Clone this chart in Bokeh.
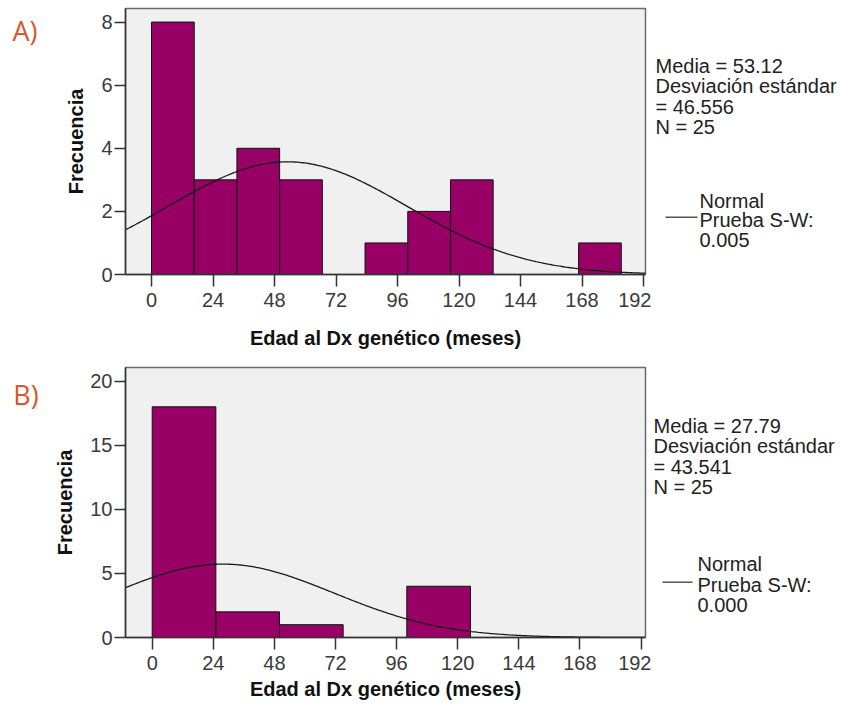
import math
import numpy as np
from bokeh.plotting import figure
from bokeh.models import Range1d, FixedTicker
from bokeh.layouts import row, column
from bokeh.core.properties import value
from bokeh.embed import file_html
from bokeh.resources import INLINE

# ---------------- data ----------------
x_ticks = [0, 24, 48, 72, 96, 120, 144, 168, 192]

# Panel A
edges_a = [0, 16.67, 33.33, 50.0, 66.67, 83.33, 100.0, 116.67, 133.33, 150.0, 166.67, 183.33]
counts_a = [8, 3, 4, 3, 0, 1, 2, 3, 0, 0, 1]
y_ticks_a = [0, 2, 4, 6, 8]
mean_a, sd_a, n_a = 53.12, 46.556, 25
stats_a = ["Media = 53.12", "Desviación estándar", "= 46.556", "N = 25"]
legend_a = ["Normal", "Prueba S-W:", "0.005"]

# Panel B
edges_b = [0, 25, 50, 75, 100, 125]
counts_b = [18, 2, 1, 0, 4]
y_ticks_b = [0, 5, 10, 15, 20]
mean_b, sd_b, n_b = 27.79, 43.541, 25
stats_b = ["Media = 27.79", "Desviación estándar", "= 43.541", "N = 25"]
legend_b = ["Normal", "Prueba S-W:", "0.000"]

x_title = "Edad al Dx genético (meses)"
y_title = "Frecuencia"

# ---------------- style ----------------
FONT = "Liberation Sans"
BAR = "#990066"
BG = "#F0F0F0"
ORANGE = "#D9572B"

TAG_W = 50
SIDE_W = 190
HIST_W = 841 - TAG_W - SIDE_W
TXT_SHIFT = 8     # baseline correction for side texts
TAG_SHIFT = 11    # baseline correction for panel tags


def blank_fig(width, height, xr, yr, top, bottom):
    s = figure(width=width, height=height, output_backend="svg", toolbar_location=None,
               x_range=Range1d(*xr), y_range=Range1d(*yr),
               min_border_left=0, min_border_right=0,
               min_border_top=top, min_border_bottom=bottom)
    s.axis.visible = False
    s.grid.visible = False
    s.outline_line_color = None
    s.background_fill_color = "white"
    s.border_fill_color = "white"
    return s


def hist_fig(edges, counts, yticks, mean, sd, n, xr, yr, height, top, bottom, xlab_standoff):
    p = figure(width=HIST_W, height=height, output_backend="svg", toolbar_location=None,
               x_range=Range1d(*xr), y_range=Range1d(*yr),
               min_border_left=75, min_border_right=6,
               min_border_top=top, min_border_bottom=bottom)
    p.background_fill_color = BG
    p.border_fill_color = "white"
    p.outline_line_color = "#6a6a6a"
    p.outline_line_width = 1.5
    p.xgrid.visible = False
    p.ygrid.visible = False

    left = [edges[i] for i in range(len(counts)) if counts[i] > 0]
    right = [edges[i + 1] for i in range(len(counts)) if counts[i] > 0]
    tops = [c for c in counts if c > 0]
    p.quad(left=left, right=right, bottom=0, top=tops, fill_color=BAR,
           line_color="#111111", line_width=1)

    bw = edges[1] - edges[0]
    xs = np.linspace(xr[0], xr[1], 300)
    ys = n * bw * np.exp(-0.5 * ((xs - mean) / sd) ** 2) / (sd * math.sqrt(2 * math.pi))
    p.line(xs, ys, line_color="#1a1a1a", line_width=1.3)

    for ax in (p.xaxis[0], p.yaxis[0]):
        ax.axis_line_color = "#333333"
        ax.axis_line_width = 1.5
        ax.major_tick_line_color = "#333333"
        ax.major_tick_line_width = 1.5
        ax.major_tick_in = 0
        ax.minor_tick_line_color = None
        ax.major_label_text_font = FONT
        ax.major_label_text_font_size = "20px"
        ax.major_label_text_color = "#3a3a3a"
        ax.axis_label_text_font = FONT
        ax.axis_label_text_font_style = "bold"
        ax.axis_label_text_font_size = "20px"
        ax.axis_label_text_color = "#111111"

    p.xaxis.ticker = FixedTicker(ticks=x_ticks)
    p.xaxis.major_tick_out = 12
    p.xaxis.major_label_standoff = 6
    p.xaxis.axis_label = x_title
    p.xaxis.axis_label_standoff = xlab_standoff

    p.yaxis.ticker = FixedTicker(ticks=yticks)
    p.yaxis.major_tick_out = 11
    p.yaxis.major_label_standoff = 2
    p.yaxis.axis_label = y_title
    p.yaxis.axis_label_standoff = 11
    return p


def tag_fig(height, frame_top, frame_bottom, top, bottom, tag, tag_xy):
    t = blank_fig(TAG_W, height, (0, TAG_W), (frame_bottom, frame_top), top, bottom)
    t.text(x=[tag_xy[0]], y=[tag_xy[1] - TAG_SHIFT], text=[tag], text_font=value("Open Sans"),
           text_font_size="27px", text_color=ORANGE, text_baseline="alphabetic")
    return t


def side_fig(height, frame_top, frame_bottom, top, bottom, stats, stats_xy, legend,
             line_xy, legend_xy):
    x0 = TAG_W + HIST_W
    s = blank_fig(SIDE_W, height, (x0, x0 + SIDE_W), (frame_bottom, frame_top), top, bottom)
    sx, sy, sdy = stats_xy
    s.text(x=[sx] * len(stats), y=[sy - TXT_SHIFT + i * sdy for i in range(len(stats))],
           text=stats, text_font=value(FONT), text_font_size="20px", text_color="#222222",
           text_baseline="alphabetic")
    lx0, lx1, ly = line_xy
    s.line([lx0, lx1], [ly, ly], line_color="#555555", line_width=1.5)
    gx, gy, gdy = legend_xy
    s.text(x=[gx] * len(legend), y=[gy - TXT_SHIFT + i * gdy for i in range(len(legend))],
           text=legend, text_font=value(FONT), text_font_size="20px", text_color="#222222",
           text_baseline="alphabetic")
    return s


# ---------- panel A (page y 0..358, frame 8..274) ----------
HA, TA, BA = 358, 8, 84
pA = hist_fig(edges_a, counts_a, y_ticks_a, mean_a, sd_a, n_a,
              xr=(-10.15, 192.78), yr=(0, 8.43), height=HA, top=TA, bottom=BA,
              xlab_standoff=17)
tA = tag_fig(HA, 8, 274, TA, BA, "A)", (12, 41))
sA = side_fig(HA, 8, 274, TA, BA, stats_a, (655, 73.5, 20.4), legend_a,
              (665, 697, 216.7), (699, 208.3, 19.4))

# ---------- panel B (page y 358..715, frame 367..637) ----------
HB, TB, BB = 357, 9, 78
pB = hist_fig(edges_b, counts_b, y_ticks_b, mean_b, sd_b, n_b,
              xr=(-10.49, 193.75), yr=(0, 21.07), height=HB, top=TB, bottom=BB,
              xlab_standoff=5)
tB = tag_fig(HB, 367, 637, TB, BB, "B)", (12.7, 405))
sB = side_fig(HB, 367, 637, TB, BB, stats_b, (653, 433.3, 20.4), legend_b,
              (662, 692, 581.7), (697, 571.7, 20.5))

layout = column(row(tA, pA, sA), row(tB, pB, sB))
open("out.html", "w").write(file_html(layout, INLINE))
